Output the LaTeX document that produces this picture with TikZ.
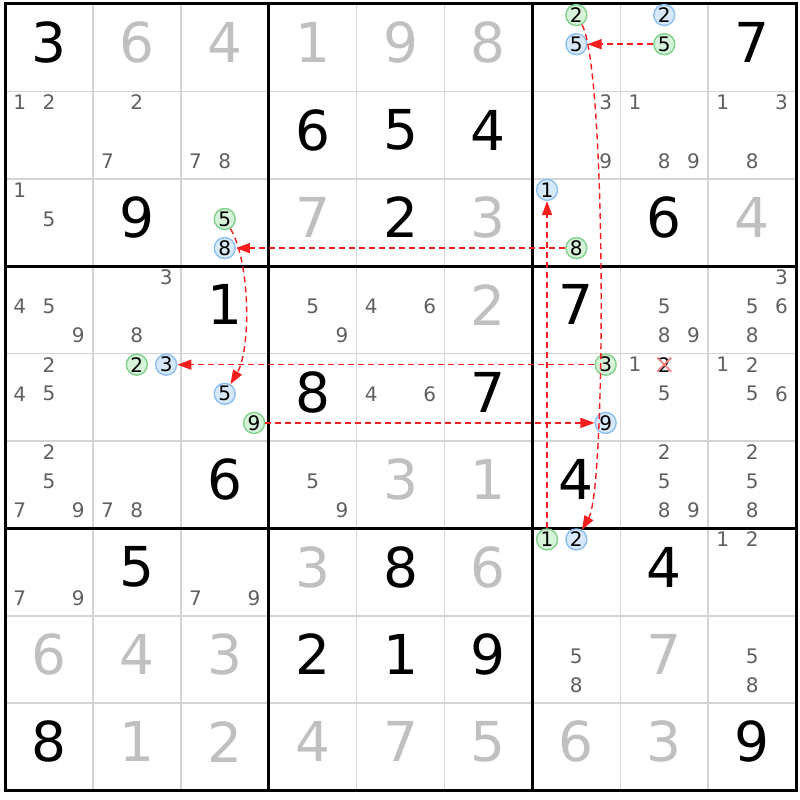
\documentclass[tikz,border=0pt]{standalone}
\usepackage{fontspec}
\setmainfont{DejaVu Sans}
\usetikzlibrary{arrows.meta,calc}
\definecolor{givgray}{RGB}{192,192,192}
\definecolor{candgray}{RGB}{96,96,96}
\definecolor{gridgray}{RGB}{212,212,212}
\definecolor{gfill}{RGB}{214,242,216}
\definecolor{gline}{RGB}{128,210,140}
\definecolor{bfill}{RGB}{214,232,250}
\definecolor{bline}{RGB}{140,192,242}
\definecolor{arrred}{RGB}{245,30,30}
\definecolor{xpink}{RGB}{240,130,130}
\tikzset{
  bigdig/.style={inner sep=0pt, font=\fontsize{55}{55}\selectfont},
  givd/.style={bigdig, text=givgray},
  solv/.style={bigdig, text=black},
  cand/.style={inner sep=0pt, font=\fontsize{20}{20}\selectfont, text=candgray},
  circd/.style={circle, line width=1.4pt, minimum size=21pt, inner sep=0pt, font=\fontsize{20}{20}\selectfont, text=black},
  gcirc/.style={circd, draw=gline, fill=gfill},
  bcirc/.style={circd, draw=bline, fill=bfill},
  link/.style={draw=arrred, line width=1.4pt, dash pattern=on 6pt off 4pt, -{Triangle[length=14pt,width=10pt]}},
  thingrid/.style={draw=gridgray, line width=1.6pt},
  thickgrid/.style={draw=black, line width=3pt}
}
\newcommand{\SGiven}[3]{\node[givd] (n#1#2) at ({5+(#2-0.5)*87.9},{4+(#1-0.5)*87.4-5}) {#3};}
\newcommand{\SSolved}[3]{\node[solv] (n#1#2) at ({5+(#2-0.5)*87.9},{4+(#1-0.5)*87.4-5}) {#3};}
\newcommand{\SCands}[3]{\foreach \n in {#3}{\pgfmathtruncatemacro\cj{mod(\n-1,3)}\pgfmathtruncatemacro\ci{floor((\n-1)/3)}\node[cand] (k#1#2\n) at ({5+(#2-1)*87.9+(\cj+0.5)*29.3},{4+(#1-1)*87.4+(\ci+0.5)*29.13-3.5}) {\n};}}
\newcommand{\SGreen}[3]{\pgfmathtruncatemacro\cj{mod(#3-1,3)}\pgfmathtruncatemacro\ci{floor((#3-1)/3)}\node[gcirc] (g#1#2#3) at ({5+(#2-1)*87.9+(\cj+0.5)*29.3},{4+(#1-1)*87.4+(\ci+0.5)*29.13-3.5}) {#3};}
\newcommand{\SBlue}[3]{\pgfmathtruncatemacro\cj{mod(#3-1,3)}\pgfmathtruncatemacro\ci{floor((#3-1)/3)}\node[bcirc] (b#1#2#3) at ({5+(#2-1)*87.9+(\cj+0.5)*29.3},{4+(#1-1)*87.4+(\ci+0.5)*29.13-3.5}) {#3};}
\begin{document}
\begin{tikzpicture}[x=1pt,y=-1pt]
\useasboundingbox (0,0) rectangle (800,800);
\fill[white] (0,0) rectangle (800,800);
% grid
\foreach \k in {1,2,4,5,7,8}{
  \draw[thingrid] ({5+\k*87.9},4) -- ({5+\k*87.9},790.6);
  \draw[thingrid] (5,{4+\k*87.4}) -- (796.1,{4+\k*87.4});
}
\foreach \k in {0,3,6,9}{
  \draw[thickgrid] ({5+\k*87.9},2.5) -- ({5+\k*87.9},792.1);
  \draw[thickgrid] (3.5,{4+\k*87.4}) -- (797.6,{4+\k*87.4});
}
% row 1
\SSolved{1}{1}{3}\SGiven{1}{2}{6}\SGiven{1}{3}{4}\SGiven{1}{4}{1}\SGiven{1}{5}{9}\SGiven{1}{6}{8}
\SGreen{1}{7}{2}\SBlue{1}{7}{5}\SBlue{1}{8}{2}\SGreen{1}{8}{5}\SSolved{1}{9}{7}
% row 2
\SCands{2}{1}{1,2}\SCands{2}{2}{2,7}\SCands{2}{3}{7,8}
\SSolved{2}{4}{6}\SSolved{2}{5}{5}\SSolved{2}{6}{4}
\SCands{2}{7}{3,9}\SCands{2}{8}{1,8,9}\SCands{2}{9}{1,3,8}
% row 3
\SCands{3}{1}{1,5}\SSolved{3}{2}{9}\SGreen{3}{3}{5}\SBlue{3}{3}{8}
\SGiven{3}{4}{7}\SSolved{3}{5}{2}\SGiven{3}{6}{3}
\SBlue{3}{7}{1}\SGreen{3}{7}{8}\SSolved{3}{8}{6}\SGiven{3}{9}{4}
% row 4
\SCands{4}{1}{4,5,9}\SCands{4}{2}{3,8}\SSolved{4}{3}{1}
\SCands{4}{4}{5,9}\SCands{4}{5}{4,6}\SGiven{4}{6}{2}
\SSolved{4}{7}{7}\SCands{4}{8}{5,8,9}\SCands{4}{9}{3,5,6,8}
% row 5
\SCands{5}{1}{2,4,5}\SGreen{5}{2}{2}\SBlue{5}{2}{3}\SBlue{5}{3}{5}\SGreen{5}{3}{9}
\SSolved{5}{4}{8}\SCands{5}{5}{4,6}\SSolved{5}{6}{7}
\SGreen{5}{7}{3}\SBlue{5}{7}{9}\SCands{5}{8}{1,5}\SCands{5}{9}{1,2,5,6}
\node[cand, text=black] (k582) at ({5+7*87.9+1.5*29.3},{4+4*87.4+0.5*29.13-3.5}) {2};
\draw[xpink, line width=1.8pt] ($(k582.center)+(-7,-7)$) -- ($(k582.center)+(7,7)$);
\draw[xpink, line width=1.8pt] ($(k582.center)+(-7,7)$) -- ($(k582.center)+(7,-7)$);
% row 6
\SCands{6}{1}{2,5,7,9}\SCands{6}{2}{7,8}\SSolved{6}{3}{6}
\SCands{6}{4}{5,9}\SGiven{6}{5}{3}\SGiven{6}{6}{1}
\SSolved{6}{7}{4}\SCands{6}{8}{2,5,8,9}\SCands{6}{9}{2,5,8}
% row 7
\SCands{7}{1}{7,9}\SSolved{7}{2}{5}\SCands{7}{3}{7,9}
\SGiven{7}{4}{3}\SSolved{7}{5}{8}\SGiven{7}{6}{6}
\SGreen{7}{7}{1}\SBlue{7}{7}{2}\SSolved{7}{8}{4}\SCands{7}{9}{1,2}
% row 8
\SGiven{8}{1}{6}\SGiven{8}{2}{4}\SGiven{8}{3}{3}
\SSolved{8}{4}{2}\SSolved{8}{5}{1}\SSolved{8}{6}{9}
\SCands{8}{7}{5,8}\SGiven{8}{8}{7}\SCands{8}{9}{5,8}
% row 9
\SSolved{9}{1}{8}\SGiven{9}{2}{1}\SGiven{9}{3}{2}\SGiven{9}{4}{4}\SGiven{9}{5}{7}
\SGiven{9}{6}{5}\SGiven{9}{7}{6}\SGiven{9}{8}{3}\SSolved{9}{9}{9}
% links
\draw[link] (g185) -- (b175);
\draw[link] (g172) .. controls +(30,52) and +(30,-52) .. (b772);
\draw[link] (g378) -- (b338);
\draw[link] (g335) .. controls +(26,44) and +(26,-44) .. (b535);
\draw[link] (g573) -- (b523);
\draw[link] (g539) -- (b579);
\draw[link] (g771) -- (b371);
\end{tikzpicture}
\end{document}
